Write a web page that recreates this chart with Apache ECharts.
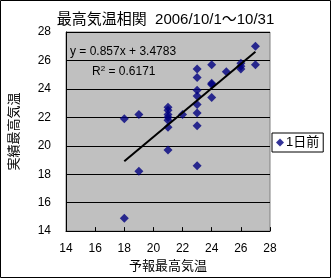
<!DOCTYPE html>
<html>
<head>
<meta charset="utf-8">
<script src="https://cdn.jsdelivr.net/npm/echarts@6/dist/echarts.min.js"></script>
<style>
  html, body { margin: 0; padding: 0; background: #fff; }
  #chart { width: 331px; height: 278px; }
</style>
</head>
<body>
<div id="chart"></div>
<script>
// forecast max temperature (x) vs observed max temperature (y)
const forecastX = [18, 18, 19, 19, 21, 21, 21, 21, 21, 21, 21, 22,
  23, 23, 23, 23, 23, 23, 23, 23, 24, 24, 24, 24, 25, 26, 26, 26, 27, 27]
const observedY = [21.9, 14.9, 22.2, 18.2, 22.7, 22.5, 22.2, 22.0, 21.8, 21.3, 19.7, 22.2,
  25.4, 24.8, 23.9, 23.5, 22.9, 22.3, 21.4, 18.6, 25.7, 24.4, 24.3, 23.4, 25.2, 25.8, 25.6, 25.4, 27.0, 25.7]

// linear trendline as printed on the chart
const slope = 0.857
const intercept = 3.4783
const trendRange = [18, 27]

const seriesName = '1日前'
const titleText = '最高気温相関  2006/10/1～10/31'
const xName = '予報最高気温'
const yName = '実績最高気温'
const eqText = 'y = 0.857x + 3.4783'

const font = '"Liberation Sans", "Noto Sans CJK JP", sans-serif'

const points = forecastX.map((x, i) => [x, observedY[i]])
const trend = trendRange.map(x => [x, slope * x + intercept])

const axisBase = {
  min: 14,
  max: 28,
  interval: 2,
  axisLine: { show: true, lineStyle: { color: '#000', width: 1 } },
  axisTick: { show: true, inside: true, length: 4, lineStyle: { color: '#000' } },
  axisLabel: { color: '#000', fontSize: 12, fontFamily: font },
  nameLocation: 'middle',
  nameTextStyle: { color: '#000', fontSize: 13, fontFamily: font },
}

const chart = echarts.init(document.getElementById('chart'), null, { renderer: 'canvas' })

chart.setOption({
  animation: false,
  backgroundColor: '#fff',
  textStyle: { fontFamily: font },
  grid: {
    show: true,
    left: 63,
    right: 61,
    top: 32,
    bottom: 45,
    backgroundColor: '#C0C0C0',
    borderColor: '#808080',
    borderWidth: 1,
  },
  xAxis: {
    ...axisBase,
    type: 'value',
    name: xName,
    nameGap: 23,
    axisLabel: { ...axisBase.axisLabel, margin: 12 },
    splitLine: { show: false },
  },
  yAxis: {
    ...axisBase,
    type: 'value',
    name: yName,
    nameGap: 45,
    axisLabel: { ...axisBase.axisLabel, margin: 15 },
    splitLine: { show: true, lineStyle: { color: '#000', width: 1 } },
  },
  legend: {
    data: [{ name: seriesName, icon: 'diamond' }],
    left: 272,
    top: 133,
    orient: 'vertical',
    borderColor: '#000',
    borderWidth: 1,
    borderRadius: 0,
    padding: [3, 4, 3, 4],
    itemWidth: 8,
    itemHeight: 8,
    itemGap: 2,
    textStyle: { color: '#000', fontSize: 13, fontFamily: font, padding: [0, 0, 0, -3] },
  },
  graphic: [
    {
      type: 'rect',
      shape: { x: 0.5, y: 0.5, width: 330, height: 277 },
      style: { fill: 'none', stroke: '#000', lineWidth: 1 },
      z: 100,
    },
    {
      type: 'text',
      left: 'center',
      top: 12,
      style: { text: titleText, fill: '#000', font: '15px ' + font },
      z: 100,
    },
    {
      type: 'text',
      left: 70,
      top: 46,
      style: { text: eqText, fill: '#000', font: '12px ' + font },
      z: 100,
    },
    {
      type: 'text',
      left: 92,
      top: 65,
      style: {
        rich: { s: { fontSize: 8, verticalAlign: 'top', fontFamily: font, padding: [0, 0, 6, 0] } },
        text: 'R{s|2} = 0.6171',
        fill: '#000',
        font: '12px ' + font,
      },
      z: 100,
    },
  ],
  series: [
    {
      name: seriesName,
      type: 'scatter',
      symbol: 'diamond',
      symbolSize: 9,
      itemStyle: { color: '#000080' },
      data: points,
      z: 3,
    },
    {
      name: 'trend',
      type: 'line',
      data: trend,
      symbol: 'none',
      lineStyle: { color: '#000', width: 2 },
      z: 4,
    },
  ],
})
</script>
</body>
</html>
